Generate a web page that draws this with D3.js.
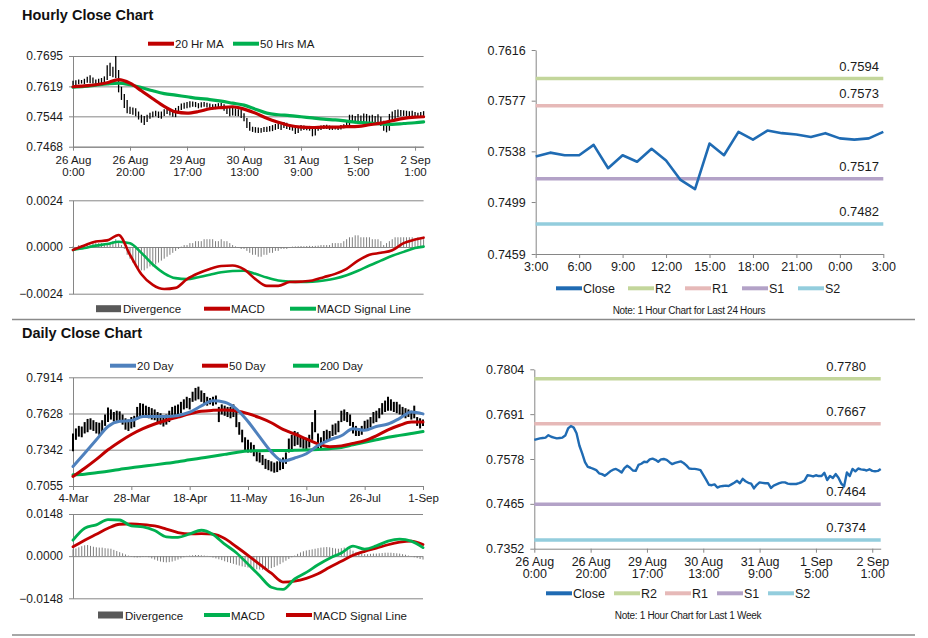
<!DOCTYPE html>
<html><head><meta charset="utf-8">
<script src="https://cdn.jsdelivr.net/npm/d3@7"></script>
<style>
body{margin:0;background:#fff;}
svg{display:block;}
</style></head><body>
<svg id="c" width="928" height="638"></svg>
<script>
// ---------------- DATA ----------------
const hourLabels = ["26 Aug|0:00","26 Aug|20:00","29 Aug|17:00","30 Aug|13:00","31 Aug|9:00","1 Sep|5:00","2 Sep|1:00"];
const hourLabelIdx = [0,20,40,60,80,100,120];
const hourClose = [0.7626,0.7628,0.7630,0.7631,0.7632,0.7638,0.7634,0.7632,0.7630,0.7631,
 0.7632,0.7637,0.7655,0.7661,0.7657,0.7643,0.7612,0.7592,0.7570,0.7558,
 0.7556,0.7553,0.7550,0.7542,0.7540,0.7536,0.7541,0.7547,0.7551,0.7553,
 0.7549,0.7544,0.7555,0.7561,0.7556,0.7549,0.7548,0.7563,0.7566,0.7571,
 0.7570,0.7577,0.7579,0.7576,0.7571,0.7577,0.7578,0.7576,0.7570,0.7565,
 0.7568,0.7570,0.7572,0.7568,0.7562,0.7554,0.7553,0.7553,0.7552,0.7550,
 0.7538,0.7526,0.7513,0.7512,0.7514,0.7506,0.7509,0.7510,0.7511,0.7510,
 0.7514,0.7518,0.7523,0.7517,0.7528,0.7522,0.7518,0.7516,0.7504,0.7513,
 0.7519,0.7518,0.7517,0.7517,0.7505,0.7511,0.7514,0.7517,0.7519,0.7519,
 0.7516,0.7515,0.7515,0.7515,0.7517,0.7520,0.7524,0.7537,0.7536,0.7534,
 0.7537,0.7535,0.7535,0.7543,0.7525,0.7535,0.7530,0.7540,0.7531,0.7516,
 0.7509,0.7544,0.7535,0.7553,0.7547,0.7554,0.7552,0.7551,0.7549,0.7552,
 0.7548,0.7547,0.7548,0.7553];
const hourLow = [0.7621,0.7622,0.7624,0.7626,0.7625,0.7628,0.7627,0.7626,0.7624,0.7625,
 0.7626,0.7629,0.7635,0.7645,0.7642,0.7640,0.7604,0.7585,0.7565,0.7552,
 0.7550,0.7548,0.7544,0.7536,0.7528,0.7522,0.7530,0.7538,0.7542,0.7544,
 0.7540,0.7538,0.7545,0.7550,0.7546,0.7543,0.7542,0.7550,0.7560,0.7563,
 0.7564,0.7566,0.7568,0.7567,0.7564,0.7566,0.7568,0.7566,0.7563,0.7561,
 0.7562,0.7563,0.7565,0.7558,0.7550,0.7544,0.7546,0.7545,0.7544,0.7540,
 0.7532,0.7515,0.7508,0.7505,0.7503,0.7502,0.7503,0.7505,0.7505,0.7506,
 0.7507,0.7510,0.7512,0.7510,0.7515,0.7512,0.7510,0.7508,0.7500,0.7502,
 0.7508,0.7510,0.7509,0.7508,0.7494,0.7496,0.7508,0.7510,0.7512,0.7512,
 0.7510,0.7510,0.7511,0.7510,0.7511,0.7514,0.7516,0.7522,0.7528,0.7527,
 0.7530,0.7528,0.7529,0.7530,0.7520,0.7524,0.7525,0.7528,0.7520,0.7508,
 0.7504,0.7508,0.7530,0.7533,0.7542,0.7544,0.7545,0.7544,0.7543,0.7545,
 0.7543,0.7542,0.7543,0.7545];
const hourHigh = [0.7633,0.7634,0.7636,0.7635,0.7638,0.7643,0.7647,0.7641,0.7636,0.7638,
 0.7640,0.7644,0.7672,0.7678,0.7668,0.7695,0.7660,0.7618,0.7600,0.7585,
 0.7568,0.7566,0.7564,0.7556,0.7548,0.7545,0.7548,0.7553,0.7556,0.7558,
 0.7556,0.7556,0.7562,0.7566,0.7563,0.7558,0.7565,0.7570,0.7576,0.7578,
 0.7580,0.7582,0.7581,0.7580,0.7577,0.7579,0.7580,0.7578,0.7576,0.7574,
 0.7575,0.7577,0.7578,0.7574,0.7570,0.7566,0.7565,0.7564,0.7562,0.7560,
 0.7552,0.7540,0.7530,0.7518,0.7517,0.7516,0.7515,0.7517,0.7518,0.7520,
 0.7522,0.7525,0.7527,0.7524,0.7530,0.7528,0.7524,0.7521,0.7518,0.7518,
 0.7522,0.7521,0.7520,0.7520,0.7518,0.7516,0.7520,0.7521,0.7522,0.7523,
 0.7521,0.7520,0.7520,0.7519,0.7522,0.7524,0.7530,0.7548,0.7548,0.7545,
 0.7550,0.7546,0.7551,0.7550,0.7546,0.7548,0.7545,0.7549,0.7543,0.7533,
 0.7525,0.7550,0.7556,0.7560,0.7561,0.7560,0.7559,0.7558,0.7557,0.7558,
 0.7555,0.7553,0.7555,0.7557];
const hourSampleIdx = [0,4,8,12,16,20,24,28,32,36,40,44,48,52,56,60,64,68,72,76,80,84,88,92,96,100,104,108,112,116,120,123];
const ma20Hr = [0.7618,0.7620,0.7623,0.7628,0.7636,0.7627,0.7608,0.7588,0.7569,0.7555,0.7552,0.7556,0.7563,0.7566,0.7568,0.7562,0.7552,0.7539,0.7529,0.7521,0.7517,0.7516,0.7517,0.7517,0.7518,0.7519,0.7523,0.7527,0.7533,0.7539,0.7542,0.7543];
const ma50Hr = [0.7617,0.7619,0.7622,0.7625,0.7627,0.7623,0.7616,0.7608,0.7601,0.7597,0.7593,0.7589,0.7586,0.7582,0.7577,0.7572,0.7562,0.7552,0.7548,0.7546,0.7543,0.7540,0.7537,0.7535,0.7532,0.7529,0.7527,0.7525,0.7524,0.7526,0.7528,0.7530];
const macdHr = [-0.00015,0.00008,0.00028,0.00034,0.00062,-0.0004,-0.0014,-0.00195,-0.00216,-0.0021,-0.00165,-0.00135,-0.00113,-0.00098,-0.00095,-0.00115,-0.00165,-0.002,-0.002,-0.0018,-0.00178,-0.00172,-0.00155,-0.00138,-0.00112,-0.0007,-0.0004,-0.0003,-0.00017,0.0002,0.00038,0.00048];
const signalHr = [-0.00015,-0.00005,0.00007,0.00015,0.00027,0.00019,-0.0003,-0.0009,-0.00135,-0.0016,-0.00165,-0.00155,-0.00143,-0.0013,-0.00123,-0.00122,-0.00138,-0.00157,-0.00172,-0.00178,-0.0018,-0.00178,-0.00172,-0.00162,-0.00145,-0.00122,-0.00095,-0.0007,-0.00045,-0.00025,-0.00005,0.00002];
const divHr = [0.00003,-0.00002,0.0001,0.0001,0.0001,0.0001,0.0001,0.0002,0.0002,0.0002,
 0.0002,0.0001,0.0001,0.0002,0.0003,0.0004,0.0002,0.0001,-0.0001,-0.0004,
 -0.0006,-0.0008,-0.0010,-0.0011,-0.0012,-0.0012,-0.0011,-0.0010,-0.0010,-0.0009,
 -0.0008,-0.0007,-0.0006,-0.0005,-0.0004,-0.0003,-0.0002,-0.0001,0.00002,0.0001,
 0.0001,0.0002,0.0002,0.0003,0.0003,0.0003,0.0004,0.0004,0.0004,0.0004,
 0.0003,0.0003,0.0004,0.0003,0.0003,0.0002,0.0001,0.00003,-0.00003,-0.0001,
 -0.0001,-0.0002,-0.0003,-0.0004,-0.0004,-0.0005,-0.0005,-0.0004,-0.0004,-0.0003,
 -0.0003,-0.0002,-0.0002,-0.0001,-0.0001,-0.0001,-0.00002,0.00002,0.00003,0.00004,
 0.00005,0.00004,0.00005,0.00006,0.00005,0.00006,0.00007,0.0001,0.0001,0.0001,
 0.0001,0.0002,0.0002,0.0002,0.0002,0.0003,0.0004,0.0005,0.0005,0.0006,
 0.0006,0.0005,0.0005,0.0005,0.0005,0.0004,0.0004,0.0004,0.0003,0.0001,
 0.0002,0.0003,0.0004,0.0005,0.0005,0.0005,0.0005,0.0005,0.0005,0.0005,
 0.0004,0.0005,0.0004,0.0004];
const hourPriceTicks = [0.7468,0.7544,0.7619,0.7695];
const hourMacdTicks = [-0.0024,0,0.0024];

const last24Labels = ["3:00","6:00","9:00","12:00","15:00","18:00","21:00","0:00","3:00"];
const last24LabelIdx = [0,3,6,9,12,15,18,21,24];
const last24Close = [0.7534,0.7537,0.7535,0.7535,0.7543,0.7525,0.7535,0.7530,0.7540,0.7531,0.7516,0.7509,0.7544,0.7535,0.7553,0.7547,0.7554,0.7552,0.7551,0.7549,0.7552,0.7548,0.7547,0.7548,0.7553];
const last24Ticks = [0.7459,0.7499,0.7538,0.7577,0.7616];
const last24Levels = [0.7594,0.7573,0.7517,0.7482];
const levelNames = ["R2","R1","S1","S2"];
const weekLevels = [0.7780,0.7667,0.7464,0.7374];
const weekTicks = [0.7352,0.7465,0.7578,0.7691,0.7804];

const dayLabels = ["4-Mar","28-Mar","18-Apr","11-May","16-Jun","26-Jul","1-Sep"];
const dayLabelIdx = [0,20,40,60,80,100,120];
const dayLow = [0.7330,0.7420,0.7445,0.7440,0.7470,0.7480,0.7500,0.7490,0.7470,0.7460,
0.7480,0.7530,0.7560,0.7580,0.7565,0.7570,0.7560,0.7540,0.7500,0.7490,
0.7510,0.7520,0.7580,0.7600,0.7610,0.7600,0.7590,0.7580,0.7575,0.7560,
0.7540,0.7525,0.7540,0.7560,0.7590,0.7600,0.7620,0.7630,0.7660,0.7670,
0.7660,0.7720,0.7730,0.7740,0.7720,0.7700,0.7690,0.7700,0.7690,0.7700,
0.7560,0.7620,0.7610,0.7600,0.7590,0.7600,0.7520,0.7460,0.7400,0.7340,
0.7320,0.7320,0.7290,0.7250,0.7240,0.7220,0.7190,0.7180,0.7170,0.7160,
0.7165,0.7180,0.7190,0.7230,0.7320,0.7340,0.7370,0.7380,0.7360,0.7350,
0.7340,0.7360,0.7420,0.7480,0.7340,0.7350,0.7400,0.7420,0.7410,0.7450,
0.7460,0.7480,0.7560,0.7570,0.7560,0.7530,0.7470,0.7450,0.7450,0.7460,
0.7490,0.7500,0.7520,0.7550,0.7560,0.7590,0.7620,0.7640,0.7650,0.7650,
0.7640,0.7630,0.7620,0.7600,0.7590,0.7600,0.7580,0.7590,0.7530,0.7510,
0.7530];
const dayHigh = [0.7470,0.7510,0.7530,0.7525,0.7560,0.7585,0.7590,0.7575,0.7560,0.7555,
0.7575,0.7620,0.7675,0.7660,0.7640,0.7650,0.7645,0.7620,0.7590,0.7580,
0.7600,0.7610,0.7680,0.7710,0.7705,0.7690,0.7680,0.7670,0.7660,0.7640,
0.7630,0.7615,0.7620,0.7650,0.7680,0.7690,0.7700,0.7720,0.7740,0.7760,
0.7750,0.7800,0.7830,0.7840,0.7810,0.7790,0.7760,0.7750,0.7760,0.7770,
0.7680,0.7700,0.7690,0.7680,0.7680,0.7700,0.7660,0.7560,0.7500,0.7440,
0.7420,0.7400,0.7380,0.7340,0.7320,0.7300,0.7270,0.7260,0.7250,0.7240,
0.7250,0.7270,0.7280,0.7320,0.7430,0.7460,0.7490,0.7480,0.7450,0.7440,
0.7430,0.7460,0.7560,0.7655,0.7470,0.7440,0.7490,0.7500,0.7490,0.7540,
0.7550,0.7570,0.7650,0.7660,0.7640,0.7620,0.7560,0.7530,0.7510,0.7530,
0.7570,0.7580,0.7600,0.7640,0.7650,0.7670,0.7710,0.7730,0.7760,0.7740,
0.7720,0.7720,0.7700,0.7680,0.7670,0.7660,0.7650,0.7690,0.7600,0.7590,
0.7580];
const daySampleIdx = [0,4,8,12,16,20,24,28,32,36,40,44,48,52,56,60,64,68,72,76,80,84,88,92,96,100,104,108,112,116,120];
const ma20Day = [0.7209,0.7314,0.7420,0.7525,0.7566,0.7572,0.7604,0.7604,0.7604,0.7612,0.7638,0.7688,0.7728,0.7717,0.7665,0.7565,0.7443,0.7325,0.7252,0.7276,0.7310,0.7375,0.7420,0.7452,0.7508,0.7495,0.7525,0.7545,0.7590,0.7640,0.7625];
const ma50Day = [0.7130,0.7195,0.7265,0.7341,0.7405,0.7462,0.7508,0.7545,0.7575,0.7600,0.7625,0.7645,0.7653,0.7656,0.7648,0.7627,0.7595,0.7555,0.7503,0.7466,0.7427,0.7388,0.7366,0.7372,0.7392,0.7414,0.7452,0.7498,0.7535,0.7560,0.7560];
const ma200Day = [0.7143,0.7148,0.7160,0.7172,0.7186,0.7200,0.7211,0.7222,0.7234,0.7247,0.7262,0.7276,0.7290,0.7305,0.7320,0.7332,0.7334,0.7335,0.7335,0.7337,0.7340,0.7344,0.7350,0.7360,0.7380,0.7400,0.7420,0.7440,0.7455,0.7470,0.7485];
const macdDay = [0.0056,0.0098,0.0110,0.0128,0.0127,0.0106,0.0103,0.0090,0.0068,0.0066,0.0078,0.0091,0.0076,0.0042,0.0012,-0.0028,-0.0069,-0.0109,-0.0117,-0.0080,-0.0057,-0.0030,-0.0007,0.0011,0.0035,0.0025,0.0036,0.0053,0.0060,0.0053,0.0030];
const signalDay = [0.0033,0.0056,0.0077,0.0098,0.0112,0.0113,0.0111,0.0106,0.0095,0.0083,0.0078,0.0079,0.0077,0.0062,0.0033,0.0003,-0.0029,-0.0060,-0.0091,-0.0088,-0.0078,-0.0062,-0.0039,-0.0018,0.0003,0.0017,0.0028,0.0040,0.0049,0.0053,0.0041];
const divDay = [0.0024,0.0027,0.0031,0.0035,0.0038,0.0039,0.0036,0.0033,0.0031,0.0030,
0.0030,0.0028,0.0027,0.0026,0.0022,0.0018,0.0014,0.0010,0.0006,0.0002,
-0.0002,-0.0004,-0.0005,-0.0004,-0.0003,-0.0002,-0.0004,-0.0008,-0.0012,-0.0016,
-0.0019,-0.0021,-0.0022,-0.0021,-0.0019,-0.0016,-0.0012,-0.0008,-0.0004,0.0001,
0.0002,0.0003,0.0004,0.0004,0.0003,0.0002,0.0001,-0.0002,-0.0005,-0.0008,
-0.0011,-0.0014,-0.0018,-0.0021,-0.0024,-0.0027,-0.0030,-0.0033,-0.0036,-0.0038,
-0.0040,-0.0042,-0.0044,-0.0046,-0.0047,-0.0048,-0.0047,-0.0045,-0.0042,-0.0038,
-0.0033,-0.0028,-0.0022,-0.0016,-0.0010,-0.0004,0.0002,0.0008,0.0013,0.0017,
0.0020,0.0022,0.0024,0.0026,0.0028,0.0030,0.0031,0.0032,0.0031,0.0029,
0.0027,0.0026,0.0028,0.0030,0.0028,0.0024,0.0019,0.0014,0.0010,0.0008,
0.0007,0.0007,0.0008,0.0009,0.0009,0.0010,0.0011,0.0012,0.0012,0.0012,
0.0011,0.0010,0.0009,0.0007,0.0005,0.0002,-0.0001,-0.0004,-0.0007,-0.0010,
-0.0012];
const dayPriceTicks = [0.7055,0.7342,0.7628,0.7914];
const dayMacdTicks = [-0.0148,0,0.0148];

// ---------------- STYLE ----------------
const FONT = 'Arial, "Liberation Sans", sans-serif';
const AX = '#868686', TXT = '#1a1a1a';
const RED = '#c00000', GREEN = '#00b050', BLUE20 = '#4f81bd', CLOSE = '#1f6bb3', DIVC = '#7f7f7f';
const LEVEL_COLORS = ['#c3d69b','#e6b9b8','#b3a2c7','#93cddd'];
const fmt4 = d3.format('.4f');

const svg = d3.select('#c').attr('font-family', FONT);
svg.append('rect').attr('width',928).attr('height',638).attr('fill','#fff');

function styleAxis(g, fs){
  g.attr('font-family', FONT).attr('font-size', fs);
  g.select('.domain').attr('stroke', AX);
  g.selectAll('.tick line').attr('stroke', AX);
  g.selectAll('.tick text').attr('fill', TXT);
}
function yAxis(x0, y, ticks, fs, gridTo){
  const g = svg.append('g').attr('transform',`translate(${x0},0)`)
    .call(d3.axisLeft(y).tickValues(ticks).tickSize(4).tickSizeOuter(0).tickPadding(6).tickFormat(fmt4));
  styleAxis(g, fs);
  if (gridTo) {
    g.selectAll('.tick').append('line').attr('x1',0).attr('x2',gridTo - x0).attr('stroke',AX).attr('stroke-width',1);
  }
  return g;
}
function xAxis(y0, x, idx, labels, fs, yoff, lineGap){
  const g = svg.append('g').attr('transform',`translate(0,${y0})`)
    .call(d3.axisBottom(x).tickValues(idx).tickSize(4).tickSizeOuter(0).tickFormat((d,i)=>labels[i]));
  styleAxis(g, fs);
  g.selectAll('.tick text').each(function(d,i){
    const t = d3.select(this); const parts = labels[i].split('|');
    t.text(null).attr('y', yoff).attr('dy', null);
    parts.forEach((p,k)=> t.append('tspan').attr('x',0).attr('dy', k ? lineGap : '0.71em').text(p));
  });
  return g;
}
function legend(items, y, fs){
  items.forEach(it=>{
    if (it.bar) {
      svg.append('rect').attr('x',it.x).attr('y',y-3.5).attr('width',25).attr('height',7).attr('fill','#595959');
    } else {
      svg.append('line').attr('x1',it.x).attr('x2',it.x+26).attr('y1',y).attr('y2',y)
        .attr('stroke',it.color).attr('stroke-width',4);
    }
    svg.append('text').attr('x',it.x+27).attr('y',y+4.5).attr('font-size',fs).attr('fill',TXT).text(it.label);
  });
}
function title(txt, y){
  svg.append('text').attr('x',22).attr('y',y).attr('font-size',14.5).attr('font-weight','bold').attr('fill','#111').text(txt);
}
function sampledLine(x, y, idx, vals, color, w){
  svg.append('path').datum(vals).attr('fill','none').attr('stroke',color).attr('stroke-width',w)
    .attr('stroke-linejoin','round').attr('stroke-linecap','round')
    .attr('d', d3.line().x((d,i)=>x(idx[i])).y(d=>y(d)).curve(d3.curveMonotoneX));
}
function rawLine(x, y, vals, color, w){
  svg.append('path').datum(vals).attr('fill','none').attr('stroke',color).attr('stroke-width',w)
    .attr('stroke-linejoin','round')
    .attr('d', d3.line().x((d,i)=>x(i)).y(d=>y(d)));
}
function hiLoBars(x, y, hi, lo, w){
  svg.append('g').selectAll('line').data(hi).join('line')
    .attr('x1',(d,i)=>x(i)).attr('x2',(d,i)=>x(i))
    .attr('y1',d=>y(d)).attr('y2',(d,i)=>y(lo[i]))
    .attr('stroke','#000').attr('stroke-width',w);
}
function divBars(x, y, vals){
  svg.append('g').selectAll('line').data(vals).join('line')
    .attr('x1',(d,i)=>x(i)).attr('x2',(d,i)=>x(i))
    .attr('y1',y(0)).attr('y2',d=>y(d))
    .attr('stroke',DIVC).attr('stroke-width',1);
}
function levelLines(x, y, levels, labelX){
  levels.forEach((v,k)=>{
    svg.append('line').attr('x1',x.range()[0]).attr('x2',x.range()[1]).attr('y1',y(v)).attr('y2',y(v))
      .attr('stroke',LEVEL_COLORS[k]).attr('stroke-width',3.5);
    svg.append('text').attr('x',labelX).attr('y',y(v)-8).attr('text-anchor','end')
      .attr('font-size',13).attr('fill',TXT).text(fmt4(v));
  });
}

// ---------------- PANEL A: hourly price ----------------
title('Hourly Close Chart', 20);
const xH = d3.scaleLinear().domain([0,123]).range([73,423.6]);
const yHP = d3.scaleLinear().domain([0.7468,0.7695]).range([146.7,56]);
yAxis(73, yHP, hourPriceTicks, 12, 423.6);
xAxis(146.7, xH, hourLabelIdx, hourLabels, 11.5, 9, '1.05em');
hiLoBars(xH, yHP, hourHigh, hourLow, 1.3);
sampledLine(xH, yHP, hourSampleIdx, ma50Hr, GREEN, 3.2);
sampledLine(xH, yHP, hourSampleIdx, ma20Hr, RED, 3.2);
legend([{label:'20 Hr MA',color:RED,x:148},{label:'50 Hrs MA',color:GREEN,x:233}], 43.7, 11.5);

// ---------------- PANEL B: hourly MACD ----------------
const yHM = d3.scaleLinear().domain([-0.0024,0.0024]).range([293.7,200.3]);
yAxis(73, yHM, hourMacdTicks, 12, 423.6);
divBars(xH, yHM, divHr);
sampledLine(xH, yHM, hourSampleIdx, signalHr, GREEN, 2.6);
sampledLine(xH, yHM, hourSampleIdx, macdHr, RED, 2.6);
legend([{label:'Divergence',bar:true,x:96},{label:'MACD',color:RED,x:204},{label:'MACD Signal Line',color:GREEN,x:290}], 308.7, 11.5);

// ---------------- PANEL E: last 24 hours ----------------
const x24 = d3.scaleLinear().domain([0,24]).range([535.7,883.3]);
const y24 = d3.scaleLinear().domain([0.7459,0.7616]).range([254,50]);
yAxis(535.7, y24, last24Ticks, 12.5, null);
xAxis(254, x24, last24LabelIdx, last24Labels, 12.5, 8, '1em');
levelLines(x24, y24, last24Levels, 879);
rawLine(x24, y24, last24Close, CLOSE, 2.6);
legend([{label:'Close',color:CLOSE,x:556},{label:'R2',color:LEVEL_COLORS[0],x:628},{label:'R1',color:LEVEL_COLORS[1],x:685},{label:'S1',color:LEVEL_COLORS[2],x:742},{label:'S2',color:LEVEL_COLORS[3],x:798}], 288.3, 12.5);
svg.append('text').attr('x',689).attr('y',313.5).attr('text-anchor','middle').attr('font-size',10).attr('fill',TXT)
  .attr('letter-spacing','-0.3').text('Note: 1 Hour Chart for Last 24 Hours');

// separators
[319.5, 635].forEach(yy=> svg.append('line').attr('x1',12).attr('x2',915).attr('y1',yy).attr('y2',yy).attr('stroke','#8a8a8a').attr('stroke-width',1.5));

// ---------------- PANEL C: daily price ----------------
title('Daily Close Chart', 338);
const xD = d3.scaleLinear().domain([0,120]).range([73,423]);
const yDP = d3.scaleLinear().domain([0.7055,0.7914]).range([486,377.3]);
yAxis(73, yDP, dayPriceTicks, 12, 423);
xAxis(486, xD, dayLabelIdx, dayLabels, 11.5, 8, '1em');
hiLoBars(xD, yDP, dayHigh, dayLow, 2);
sampledLine(xD, yDP, daySampleIdx, ma200Day, GREEN, 3);
sampledLine(xD, yDP, daySampleIdx, ma50Day, RED, 3);
sampledLine(xD, yDP, daySampleIdx, ma20Day, BLUE20, 3);
legend([{label:'20 Day',color:BLUE20,x:110},{label:'50 Day',color:RED,x:202},{label:'200 Day',color:GREEN,x:293}], 365.7, 11.5);

// ---------------- PANEL F: daily MACD ----------------
const yDM = d3.scaleLinear().domain([-0.0148,0.0148]).range([598.3,514]);
yAxis(73, yDM, dayMacdTicks, 12, 423);
divBars(xD, yDM, divDay);
sampledLine(xD, yDM, daySampleIdx, signalDay, RED, 2.8);
sampledLine(xD, yDM, daySampleIdx, macdDay, GREEN, 2.8);
legend([{label:'Divergence',bar:true,x:98},{label:'MACD',color:GREEN,x:204},{label:'MACD Signal Line',color:RED,x:286}], 615, 11.5);

// ---------------- PANEL D: last week ----------------
const xW = d3.scaleLinear().domain([0,123]).range([534.3,880.7]);
const yW = d3.scaleLinear().domain([0.7352,0.7804]).range([548.7,369.3]);
yAxis(534.3, yW, weekTicks, 12.5, null);
xAxis(548.7, xW, hourLabelIdx, hourLabels, 12.5, 8, '1em');
levelLines(xW, yW, weekLevels, 866);
rawLine(xW, yW, hourClose, CLOSE, 2.4);
legend([{label:'Close',color:CLOSE,x:546},{label:'R2',color:LEVEL_COLORS[0],x:614},{label:'R1',color:LEVEL_COLORS[1],x:665},{label:'S1',color:LEVEL_COLORS[2],x:717},{label:'S2',color:LEVEL_COLORS[3],x:768}], 593.3, 12.5);
svg.append('text').attr('x',688).attr('y',618.5).attr('text-anchor','middle').attr('font-size',10).attr('fill',TXT)
  .attr('letter-spacing','-0.3').text('Note: 1 Hour Chart for Last 1 Week');
</script>
</body></html>
